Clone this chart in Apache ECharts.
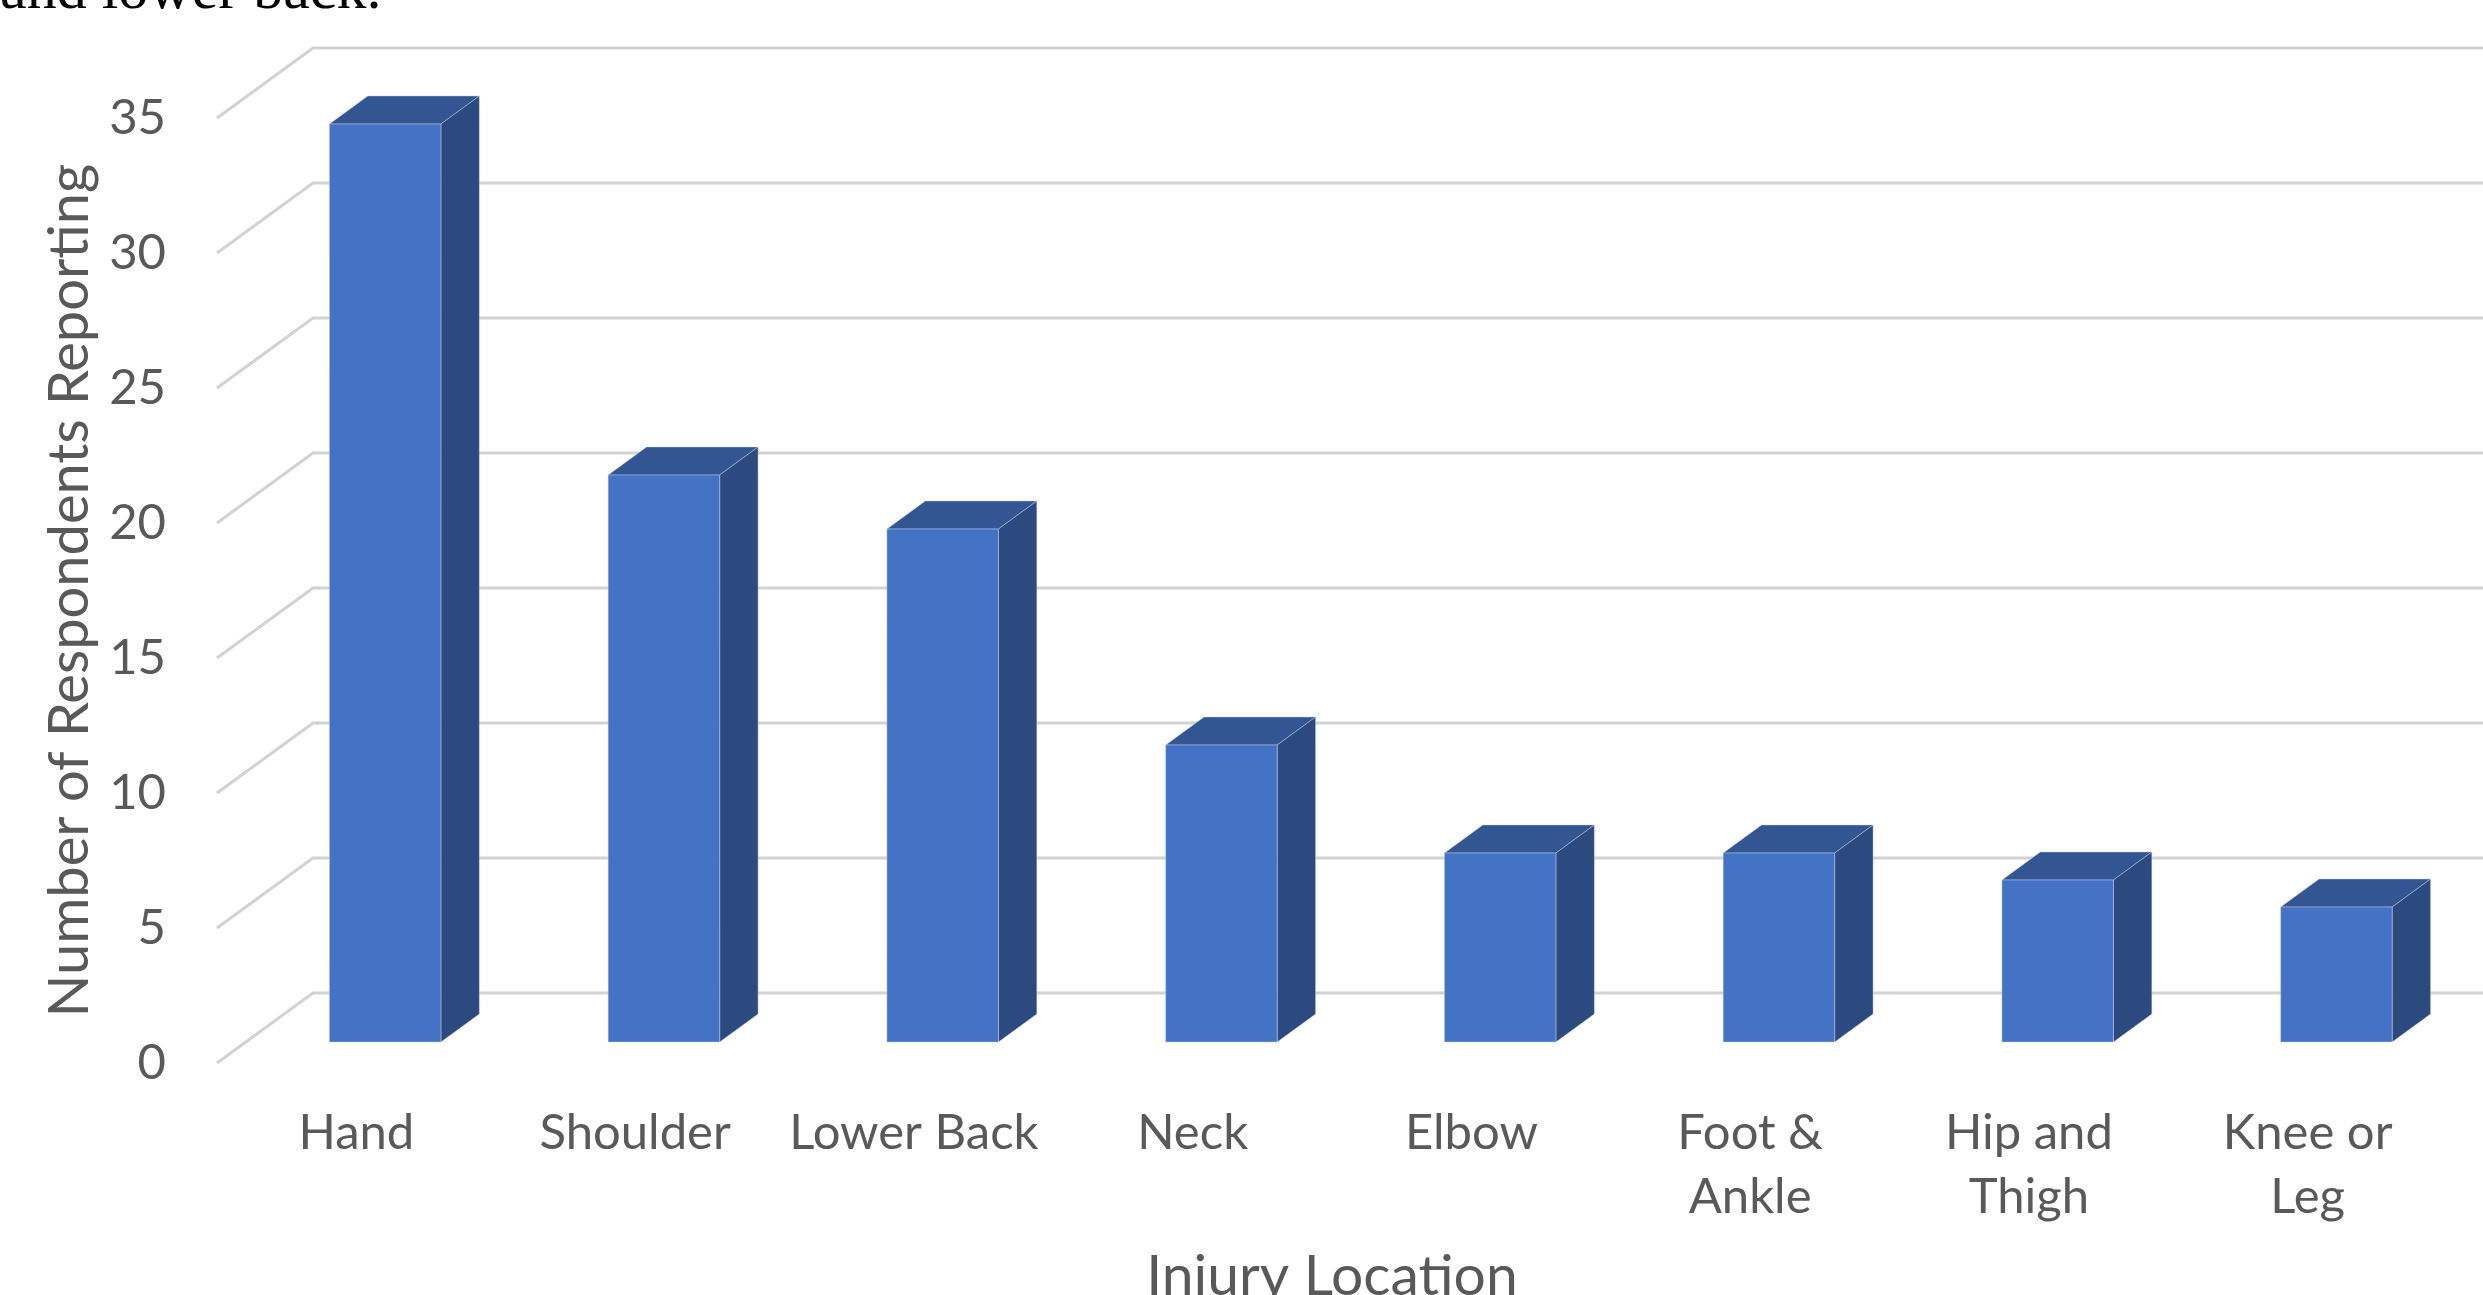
<!DOCTYPE html>
<html>
<head>
<meta charset="UTF-8">
<title>Injury Location</title>
<style>
    * { margin: 0; padding: 0; box-sizing: border-box; }
    html, body { width: 100%; height: 100%; background: #fff; }
    #chart { width: 2483px; height: 1295px; }
</style>
</head>
<body>
<div id="chart"></div>
<script src="https://cdn.jsdelivr.net/npm/echarts@6/dist/echarts.min.js"></script>
<script>
var categories = ['Hand', 'Shoulder', 'Lower Back', 'Neck', 'Elbow', 'Foot &\nAnkle', 'Hip and\nThigh', 'Knee or\nLeg'];
var respondents = [34, 21, 19, 11, 7, 7, 6, 5];
var yTicks = [0, 5, 10, 15, 20, 25, 30, 35];

// offset of the back wall from the front plane (fake 3d box)
var DEPTH_X = 96, DEPTH_Y = -70;
// bars sit between 30% and 70% of the depth, 40% of the band wide
var BAR_FRONT = 0.3, BAR_BACK = 0.7, BAR_WIDTH = 0.4;

var chart = echarts.init(document.getElementById('chart'));

function renderWall(params, api) {
    var cs = params.coordSys;
    var y = api.coord([0, api.value(1)])[1];
    return {
        type: 'polyline',
        silent: true,
        shape: {
            points: [[cs.x, y], [cs.x + DEPTH_X, y + DEPTH_Y], [cs.x + cs.width + DEPTH_X * 2, y + DEPTH_Y]]
        },
        style: { stroke: '#d2d2d2', lineWidth: 3, fill: null }
    };
}

function renderBar(params, api) {
    var i = api.value(0);
    var base = api.coord([i, 0]);
    var top = api.coord([i, api.value(1)]);
    var w = api.size([1, 0])[0] * BAR_WIDTH;
    var x0 = base[0] - w / 2 + DEPTH_X * BAR_FRONT;
    var x1 = x0 + w;
    var yb = base[1] + DEPTH_Y * BAR_FRONT;
    var yt = top[1] + DEPTH_Y * BAR_FRONT;
    var dx = DEPTH_X * (BAR_BACK - BAR_FRONT);
    var dy = DEPTH_Y * (BAR_BACK - BAR_FRONT);
    var edge = { stroke: 'rgba(200,210,230,0.45)', lineWidth: 1 };
    return {
        type: 'group',
        children: [
            {
                type: 'polygon',
                shape: { points: [[x0, yt], [x1, yt], [x1 + dx, yt + dy], [x0 + dx, yt + dy]] },
                style: echarts.util.extend({ fill: '#335693' }, edge)
            },
            {
                type: 'polygon',
                shape: { points: [[x1, yb], [x1, yt], [x1 + dx, yt + dy], [x1 + dx, yb + dy]] },
                style: echarts.util.extend({ fill: '#2c4a7f' }, edge)
            },
            {
                type: 'rect',
                shape: { x: x0, y: yt, width: w, height: yb - yt },
                style: echarts.util.extend({ fill: '#4472c4' }, edge)
            }
        ]
    };
}

var option = {
    backgroundColor: '#fff',
    animation: false,
    textStyle: { fontFamily: 'Lato' },
    graphic: [
        {
            type: 'text',
            left: 0,
            top: -38,
            style: { text: 'and lower back.', font: '60px "Liberation Serif"', fill: '#000' }
        }
    ],
    grid: {
        left: 217,
        top: 118,
        width: 2230,
        height: 945,
        outerBoundsMode: 'none'
    },
    xAxis: {
        type: 'category',
        data: categories,
        axisLine: { show: false },
        axisTick: { show: false },
        splitLine: { show: false },
        axisLabel: {
            interval: 0,
            margin: 38,
            fontSize: 49,
            lineHeight: 64,
            color: '#595959'
        },
        name: 'Injury Location',
        nameLocation: 'middle',
        nameGap: 185,
        nameTextStyle: { fontSize: 57, color: '#595959' }
    },
    yAxis: {
        type: 'value',
        min: 0,
        max: 35,
        interval: 5,
        axisLine: { show: false },
        axisTick: { show: false },
        splitLine: { show: false },
        axisLabel: {
            margin: 51,
            fontSize: 49,
            color: '#595959'
        },
        name: 'Number of Respondents Reporting',
        nameLocation: 'middle',
        nameGap: 113,
        nameTextStyle: { fontSize: 56, color: '#595959' }
    },
    series: [
        {
            type: 'custom',
            name: 'wall',
            renderItem: renderWall,
            encode: { x: 0, y: 1 },
            data: yTicks.map(function (v) { return [0, v]; }),
            z: 1
        },
        {
            type: 'custom',
            name: 'Injury Location',
            renderItem: renderBar,
            encode: { x: 0, y: 1 },
            data: respondents.map(function (v, i) { return [i, v]; }),
            z: 2
        }
    ]
};
chart.setOption(option);
</script>
</body>
</html>
